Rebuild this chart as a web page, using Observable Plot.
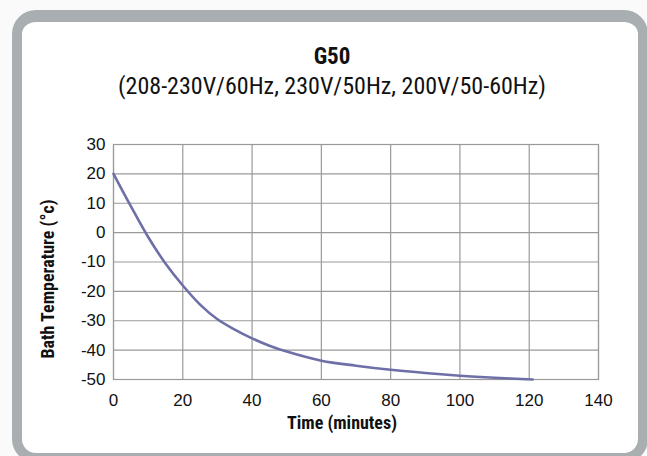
<!DOCTYPE html>
<html>
<head>
<meta charset="utf-8">
<script src="https://cdn.jsdelivr.net/npm/d3@7"></script>
<script src="https://cdn.jsdelivr.net/npm/@observablehq/plot@0.6"></script>
<style>
  html, body { margin: 0; padding: 0; background: #fafafa; width: 647px; height: 456px; overflow: hidden; }
  #frame {
    position: absolute; left: 12px; top: 10px;
    width: 616px; height: 431px;
    border: 10px solid #a9aeb1; border-top-width: 12px;
    border-radius: 24px; background: #ffffff;
  }
  .title, .subtitle {
    position: absolute; left: 0; width: 664px; text-align: center;
    font-family: "Roboto Condensed", "Liberation Sans Narrow", "DejaVu Sans Condensed", "DejaVu Sans", sans-serif;
    font-stretch: condensed;
    color: #111;
  }
  .title { top: 43px; font-size: 23px; font-weight: bold; }
  .subtitle { top: 72px; font-size: 24px; }
  #chart { position: absolute; left: 0; top: 130px; }
</style>
</head>
<body>
<div id="frame"></div>
<div class="title">G50</div>
<div class="subtitle">(208-230V/60Hz, 230V/50Hz, 200V/50-60Hz)</div>
<div id="chart"></div>
<script>
const timeMinutes = [0, 5, 10, 15, 20, 25, 30, 35, 40, 45, 50, 60, 70, 80, 90, 100, 110, 121];
const bathTemp    = [20, 9, -1.5, -10.5, -18, -24.5, -29.5, -33, -36, -38.5, -40.5, -43.6, -45.3, -46.7, -47.8, -48.7, -49.4, -50];
const xTicks = [0, 20, 40, 60, 80, 100, 120, 140];
const yTicks = [-50, -40, -30, -20, -10, 0, 10, 20, 30];
const xLabel = "Time (minutes)";
const yLabel = "Bath Temperature (°c)";

const data = timeMinutes.map((t, i) => ({t, temp: bathTemp[i]}));
const narrow = "'Roboto Condensed', 'Liberation Sans Narrow', 'DejaVu Sans Condensed', 'DejaVu Sans', sans-serif";

const chart = Plot.plot({
  width: 647,
  height: 310,
  marginLeft: 113,
  marginRight: 49,
  marginTop: 14,
  marginBottom: 61,
  style: {fontFamily: "'Liberation Sans', Arial, sans-serif", fontSize: "17px", color: "#111", background: "transparent"},
  x: {domain: [0, 140], ticks: xTicks, label: null},
  y: {domain: [-50, 30], ticks: yTicks, label: null},
  marks: [
    Plot.gridX(xTicks, {stroke: "#9a9a9a", strokeOpacity: 1, strokeWidth: 1.2}),
    Plot.gridY(yTicks, {stroke: "#9a9a9a", strokeOpacity: 1, strokeWidth: 1.2}),
    Plot.frame({stroke: "#9a9a9a", strokeWidth: 1.2}),
    Plot.axisX(xTicks, {tickSize: 0, tickPadding: 14, label: null, fontSize: 17, tickFormat: d => String(d)}),
    Plot.axisY(yTicks, {tickSize: 0, tickPadding: 8, label: null, fontSize: 17, tickFormat: d => String(d)}),
    Plot.line(data, {x: "t", y: "temp", stroke: "#6f6fa8", strokeWidth: 2.6, curve: "catmull-rom"}),
    Plot.text([xLabel], {frameAnchor: "bottom", text: d => d, textAnchor: "middle", lineAnchor: "middle", dx: -14, dy: 44, fontWeight: "bold", fontSize: 18, fontFamily: narrow, fontStretch: "condensed", fill: "#111"}),
    Plot.text([yLabel], {frameAnchor: "left", text: d => d, textAnchor: "middle", lineAnchor: "middle", rotate: -90, dx: -65, dy: 17, fontWeight: "bold", fontSize: 18, fontFamily: narrow, fontStretch: "condensed", fill: "#111"})
  ]
});
document.getElementById("chart").appendChild(chart);
</script>
</body>
</html>
